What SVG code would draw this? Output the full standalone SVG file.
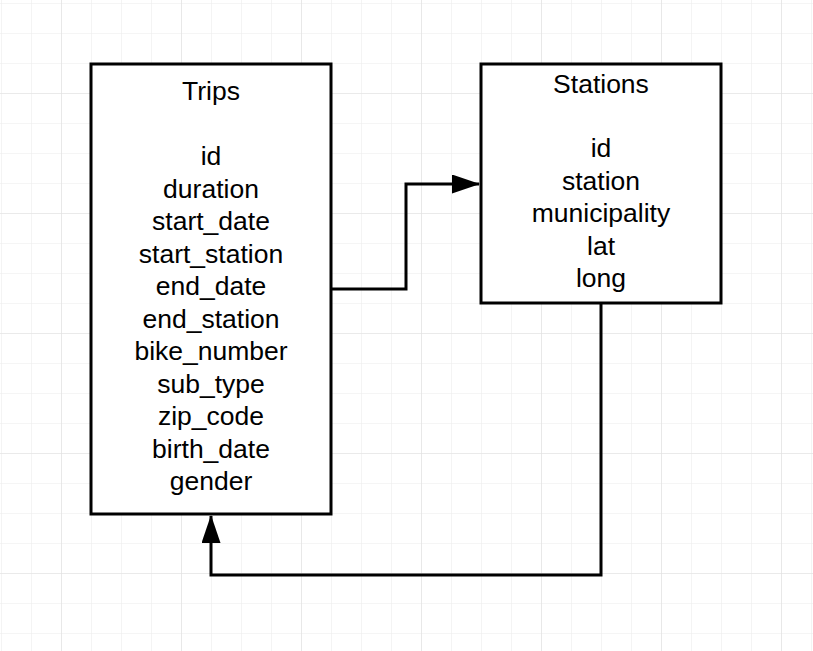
<svg xmlns="http://www.w3.org/2000/svg" width="813" height="651" viewBox="0 0 813 651">
  <defs>
    <pattern id="minor" x="1" y="3" width="30" height="30" patternUnits="userSpaceOnUse">
      <path d="M0 0 V30 M0 0 H30" fill="none" stroke="#ececec" stroke-width="1.2"/>
    </pattern>
    <pattern id="major" x="61" y="93" width="120" height="120" patternUnits="userSpaceOnUse">
      <path d="M0 0 V120 M0 0 H120" fill="none" stroke="#e0e0e0" stroke-width="1.2"/>
    </pattern>
    <marker id="arrow" viewBox="0 0 28 19" refX="27" refY="9.5" markerWidth="28" markerHeight="19" markerUnits="userSpaceOnUse" orient="auto">
      <path d="M0 0 L28 9.5 L0 19 Z" fill="#000"/>
    </marker>
    <style>
      .box { fill: #fff; stroke: #000; stroke-width: 3; }
      .lbl { font-family: "Liberation Sans", Arial, sans-serif; font-size: 26.5px; fill: #000; text-anchor: middle; }
      .conn { fill: none; stroke: #000; stroke-width: 3; }
    </style>
  </defs>
  <rect width="813" height="651" fill="#fff"/>
  <rect width="813" height="651" fill="url(#minor)"/>
  <rect width="813" height="651" fill="url(#major)"/>

  <g id="connectors">
    <path class="conn" d="M331 289 H406 V184 H479" marker-end="url(#arrow)"/>
    <path class="conn" d="M601 303 V575 H211 V516" marker-end="url(#arrow)"/>
  </g>

  <g id="trips">
    <rect class="box" x="91" y="64" width="240" height="450"/>
    <text class="lbl" x="211" y="100">Trips</text>
    <text class="lbl" x="211" y="165">id</text>
    <text class="lbl" x="211" y="197.5">duration</text>
    <text class="lbl" x="211" y="230">start_date</text>
    <text class="lbl" x="211" y="262.5">start_station</text>
    <text class="lbl" x="211" y="295">end_date</text>
    <text class="lbl" x="211" y="327.5">end_station</text>
    <text class="lbl" x="211" y="360">bike_number</text>
    <text class="lbl" x="211" y="392.5">sub_type</text>
    <text class="lbl" x="211" y="425">zip_code</text>
    <text class="lbl" x="211" y="457.5">birth_date</text>
    <text class="lbl" x="211" y="490">gender</text>
  </g>

  <g id="stations">
    <rect class="box" x="481" y="64" width="240" height="239"/>
    <text class="lbl" x="601" y="92.5">Stations</text>
    <text class="lbl" x="601" y="157">id</text>
    <text class="lbl" x="601" y="189.5">station</text>
    <text class="lbl" x="601" y="222">municipality</text>
    <text class="lbl" x="601" y="254.5">lat</text>
    <text class="lbl" x="601" y="287">long</text>
  </g>
</svg>
